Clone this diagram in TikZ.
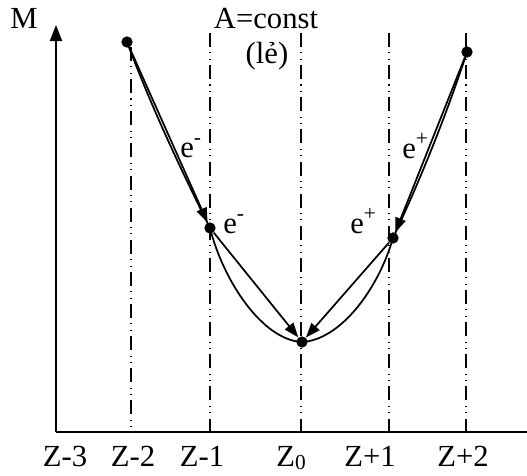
\documentclass[tikz,border=0pt]{standalone}
\usepackage{fontspec}
\setmainfont{Liberation Serif}
\usetikzlibrary{arrows.meta}
\begin{document}
\begin{tikzpicture}[x=0.75pt,y=-0.75pt,
  lbl/.style={inner sep=0pt,font=\fontsize{23}{27}\selectfont},
  dot/.style={circle,fill=black,inner sep=0pt,minimum size=8.5pt},
  guide/.style={line width=1.1pt,dash pattern=on 10.5pt off 4pt on 0.8pt off 4pt on 0.8pt off 4pt},
  axis/.style={line width=1.5pt},
  traj/.style={line width=1.3pt},
  move/.style={line width=1.3pt,-{Triangle[length=11pt,width=8pt]}}]
\useasboundingbox (0,0) rectangle (527,475);
% axes
\coordinate (O) at (56,432);
\coordinate (ytop) at (56,25);
\coordinate (xend) at (527,432);
\draw[axis] (xend) -- (O);
\draw[axis,-{Triangle[length=12pt,width=9pt]}] (O) -- (ytop);
% guide lines
\coordinate (g2t) at (131,47);  \coordinate (g2b) at (131,432);
\coordinate (g1t) at (210,33);  \coordinate (g1b) at (210,432);
\coordinate (g0t) at (301,33);  \coordinate (g0b) at (301,432);
\coordinate (p1t) at (389,33);  \coordinate (p1b) at (389,432);
\coordinate (p2t) at (466,33);  \coordinate (p2b) at (466,432);
\draw[guide] (g2t) -- (g2b);
\draw[guide] (g1t) -- (g1b);
\draw[guide] (g0t) -- (g0b);
\draw[guide] (p1t) -- (p1b);
\draw[guide] (p2t) -- (p2b);
% points
\node[dot] (m2) at (127,42) {};
\node[dot] (m1) at (210,228) {};
\node[dot] (z0) at (302,342) {};
\node[dot] (q1) at (393,238) {};
\node[dot] (q2) at (467,52) {};
% parabola
\draw[traj] (m2.center) .. controls (151,106) and (180,168) .. (m1.center)
  .. controls (223,280) and (262,340) .. (z0.center)
  .. controls (340,340) and (378,290) .. (q1.center)
  .. controls (421,178) and (446,116) .. (q2.center);
% decays
\draw[move] (m2) -- (m1);
\draw[move] (m1) -- (z0);
\draw[move] (q2) -- (q1);
\draw[move] (q1) -- (z0);
% labels
\node[lbl,anchor=base] (M) at (24,28) {M};
\node[lbl,anchor=base] (A) at (266,28) {A=const};
\node[lbl,anchor=base] (le) at (267,63) {(lẻ)};
\node[lbl,anchor=base west] (e1) at (180,157) {e\textsuperscript{-}};
\node[lbl,anchor=base west] (e2) at (223,233) {e\textsuperscript{-}};
\node[lbl,anchor=base west] (e3) at (350,233) {e\textsuperscript{+}};
\node[lbl,anchor=base west] (e4) at (402,158) {e\textsuperscript{+}};
\node[lbl,anchor=base] (z3l) at (65,466) {Z-3};
\node[lbl,anchor=base] (z2l) at (133,466) {Z-2};
\node[lbl,anchor=base] (z1l) at (202,466) {Z-1};
\node[lbl,anchor=base] (z0l) at (291,466) {Z\raisebox{-0.12em}{\fontsize{16}{16}\selectfont 0}};
\node[lbl,anchor=base] (p1l) at (370,466) {Z+1};
\node[lbl,anchor=base] (p2l) at (463,466) {Z+2};
\end{tikzpicture}
\end{document}
